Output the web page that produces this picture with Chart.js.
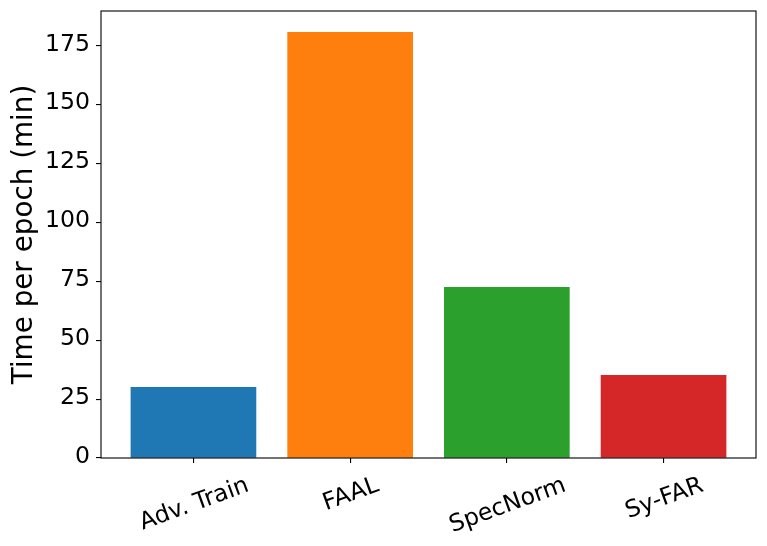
<!DOCTYPE html>
<html>
<head>
<meta charset="utf-8">
<script src="https://cdn.jsdelivr.net/npm/chart.js@4"></script>
<style>
  html, body { margin: 0; padding: 0; background: #ffffff; }
  #wrap { width: 767px; height: 546px; }
</style>
</head>
<body>
<div id="wrap"><canvas id="c" width="767" height="546"></canvas></div>
<script>
const categories = ["Adv. Train", "FAAL", "SpecNorm", "Sy-FAR"];
const timePerEpoch = [30.0, 180.8, 72.5, 35.1];
const barColors = ["#1f77b4", "#ff7f0e", "#2ca02c", "#d62728"];
const yTicks = [0, 25, 50, 75, 100, 125, 150, 175];
const yTitle = "Time per epoch (min)";

const FONT = "'DejaVu Sans', 'Liberation Sans', sans-serif";
const TICK_SIZE = 23.6;

const frameAndLabels = {
  id: 'frameAndLabels',
  afterDraw(chart) {
    const ctx = chart.ctx;
    const a = chart.chartArea;
    const xs = chart.scales.x;
    ctx.save();
    ctx.strokeStyle = '#000';
    ctx.lineWidth = 1.1;
    ctx.strokeRect(a.left, a.top, a.right - a.left, a.bottom - a.top);
    ctx.fillStyle = '#000';
    ctx.font = TICK_SIZE + "px " + FONT;
    ctx.textAlign = 'center';
    ctx.textBaseline = 'alphabetic';
    const ang = 20 * Math.PI / 180;
    categories.forEach((lab, i) => {
      const px = xs.getPixelForValue(i);
      const w = ctx.measureText(lab).width;
      const cy = a.bottom + 24.5 + w * Math.sin(ang) / 2;
      ctx.save();
      ctx.translate(px, cy);
      ctx.rotate(-ang);
      ctx.fillText(lab, 0, TICK_SIZE * 0.365);
      ctx.restore();
    });
    ctx.restore();
  }
};

new Chart(document.getElementById('c'), {
  type: 'bar',
  data: {
    datasets: [{
      data: categories.map((c, i) => ({ x: i, y: timePerEpoch[i] })),
      backgroundColor: barColors,
      borderWidth: 0,
      barThickness: 125
    }]
  },
  options: {
    responsive: false,
    animation: false,
    devicePixelRatio: 1,
    layout: { padding: { top: 11, right: 11, left: 0, bottom: 0 } },
    plugins: { legend: { display: false }, tooltip: { enabled: false } },
    scales: {
      x: {
        type: 'linear',
        min: -0.59,
        max: categories.length - 1 + 0.59,
        offset: false,
        afterBuildTicks: s => { s.ticks = categories.map((c, i) => ({ value: i })); },
        afterFit: s => { s.height = 88; s.paddingLeft = 0; s.paddingRight = 0; },
        border: { display: false },
        grid: { offset: false, drawOnChartArea: false, drawTicks: true, tickLength: 5, color: '#000', lineWidth: 1.1 },
        ticks: { display: false }
      },
      y: {
        min: 0,
        max: Math.max(...timePerEpoch) * 1.05,
        afterBuildTicks: s => { s.ticks = yTicks.map(v => ({ value: v })); },
        afterFit: s => { s.width = 101; s.paddingTop = 0; s.paddingBottom = 0; },
        border: { display: false },
        grid: { offset: false, drawOnChartArea: false, drawTicks: true, tickLength: 5, color: '#000', lineWidth: 1.1 },
        ticks: {
          color: '#000',
          padding: 6,
          labelOffset: -1.5,
          font: { family: FONT, size: TICK_SIZE },
          callback: v => String(v)
        },
        title: {
          display: true,
          text: yTitle,
          color: '#000',
          font: { family: FONT, size: 27.8, lineHeight: 1 },
          padding: { top: 11, bottom: 0 }
        }
      }
    }
  },
  plugins: [frameAndLabels]
});
</script>
</body>
</html>
